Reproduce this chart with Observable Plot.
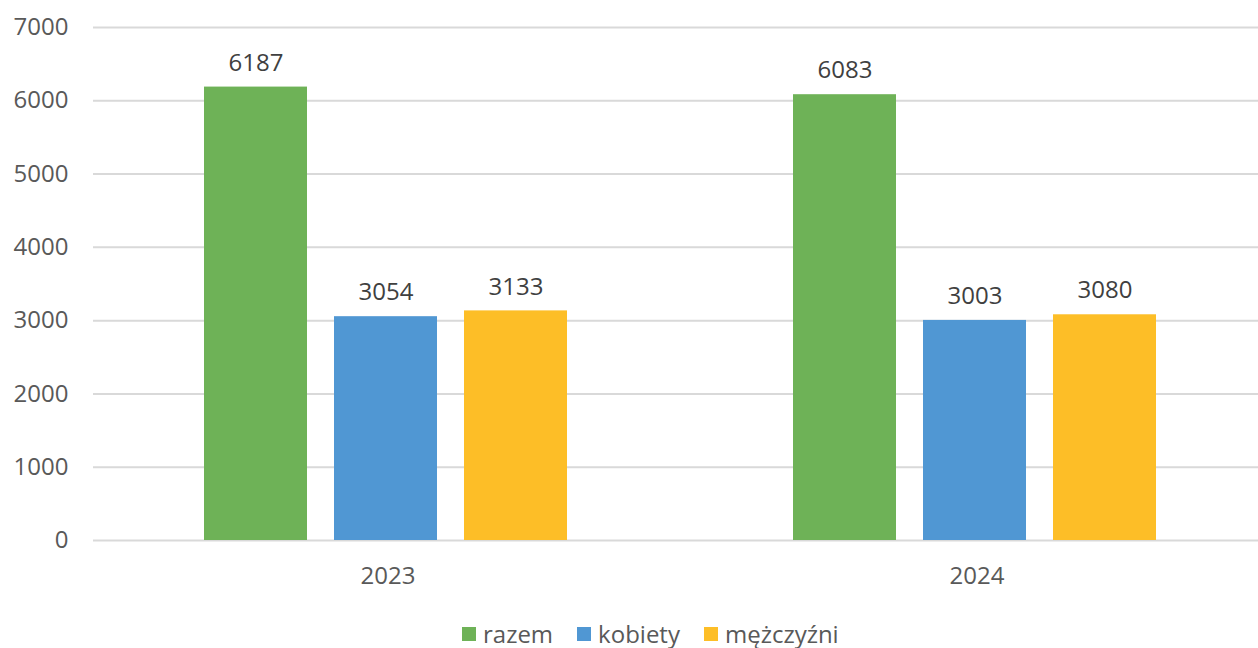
<!DOCTYPE html>
<html>
<head>
<meta charset="utf-8">
<script src="https://cdn.jsdelivr.net/npm/d3@7"></script>
<script src="https://cdn.jsdelivr.net/npm/@observablehq/plot@0.6"></script>
<style>
  html, body { margin: 0; padding: 0; background: #fff; overflow: hidden; }
  #chart { position: relative; width: 1258px; height: 648px; font-family: "Open Sans", sans-serif; }
  #legend { position: absolute; left: 462px; top: 620px; display: flex; align-items: center; font-size: 24px; color: #595959; line-height: 28px; }
  .item { display: flex; align-items: center; margin-right: 24px; }
  .sw { width: 14px; height: 14px; margin-right: 7px; }
</style>
</head>
<body>
<div id="chart"></div>
<script>
const years = ["2023", "2024"];
const series = ["razem", "kobiety", "mężczyźni"];
const colors = ["#6EB257", "#5097D3", "#FDBE27"];
const values2023 = [6187, 3054, 3133];
const values2024 = [6083, 3003, 3080];
const yTicks = [0, 1000, 2000, 3000, 4000, 5000, 6000, 7000];

const valuesByYear = {"2023": values2023, "2024": values2024};
const data = years.flatMap(y => series.map((s, i) => ({year: y, series: s, value: valuesByYear[y][i]})));

const plot = Plot.plot({
  width: 1258,
  height: 600,
  marginLeft: 92,
  marginRight: -13,
  marginTop: 27,
  marginBottom: 60,
  style: {fontFamily: "'Open Sans', sans-serif", fontSize: "24px", color: "#595959", background: "#fff", overflow: "visible"},
  fx: {domain: years, padding: 0},
  x: {domain: series, paddingInner: 0.21, paddingOuter: 0.864, align: 0.491},
  y: {domain: [0, 7000], ticks: yTicks},
  color: {domain: series, range: colors},
  marks: [
    Plot.gridY(yTicks, {stroke: "#d9d9d9", strokeOpacity: 1, strokeWidth: 2}),
    Plot.axisY(yTicks, {tickSize: 0, tickPadding: 25, label: null, fill: "#595959", fontSize: 24, tickFormat: d => String(d)}),
    Plot.axisX({ticks: [], label: null}),
    Plot.axisFx({anchor: "bottom", tickSize: 0, tickPadding: 26, label: null, fill: "#595959", fontSize: 24}),
    Plot.barY(data, {fx: "year", x: "series", y: "value", fill: "series"}),
    Plot.text(data, {fx: "year", x: "series", y: "value", text: d => String(d.value), dy: -24, fill: "#404040", fontSize: 24})
  ]
});
document.getElementById("chart").appendChild(plot);

const legend = document.createElement("div");
legend.id = "legend";
series.forEach((s, i) => {
  const item = document.createElement("div");
  item.className = "item";
  const sw = document.createElement("div");
  sw.className = "sw";
  sw.style.background = colors[i];
  const t = document.createElement("span");
  t.textContent = s;
  item.appendChild(sw);
  item.appendChild(t);
  legend.appendChild(item);
});
document.getElementById("chart").appendChild(legend);
</script>
</body>
</html>
